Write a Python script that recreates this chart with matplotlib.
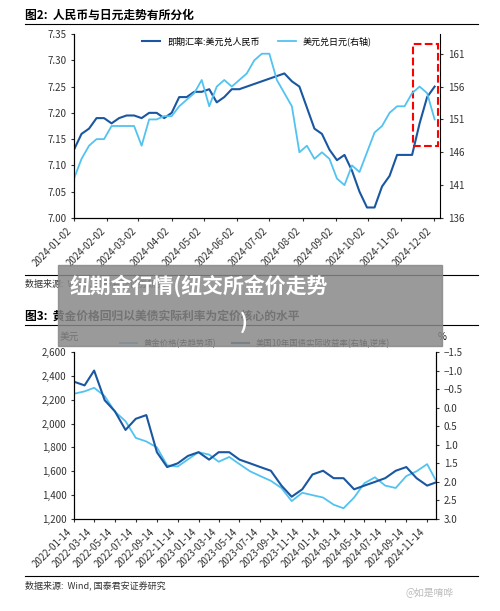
import matplotlib
matplotlib.use("Agg")
import matplotlib.pyplot as plt
import pandas as pd
from matplotlib.patches import Rectangle

plt.rcParams['font.family'] = ['Noto Sans CJK SC', 'DejaVu Sans']

cny = [7.13,7.16,7.17,7.19, 7.19,7.18,7.19,7.195, 7.195,7.19,7.20,7.20,7.19,
       7.20,7.23,7.23,7.24, 7.24,7.245,7.22,7.23, 7.245,7.245,7.25,7.255,
       7.26,7.265,7.27,7.275,7.26, 7.25,7.21,7.17,7.16, 7.13,7.11,7.12,7.09,7.05,
       7.02,7.02,7.06,7.08, 7.12,7.12,7.12,7.18,7.23, 7.25]
jpy = [142,145,147,148, 148,150,150,150, 150,147,151,151,151.5,
       151.5,153,154,155, 157,153,156,157, 156,157,158,160,
       161,161,157,155,153, 146,147,145,146, 145,142,141,144,143,
       146,149,150,152, 153,153,155,156,155, 151]
top_dates = pd.date_range('2024-01-02', periods=len(cny), freq='7D')
top_ticks = pd.date_range('2024-01-01', periods=12, freq='MS') + pd.Timedelta(days=1)

gold = [2250,2270,2300,2230,2100,2020,1880,1850,1800,1650,1640,1700,
        1760,1740,1680,1720,1660,1600,1560,1520,1460,1350,1420,1400,
        1380,1320,1290,1380,1500,1550,1480,1460,1560,1600,1660,1500]
ry = [-0.7,-0.6,-1.0,-0.2,0.1,0.6,0.3,0.2,1.2,1.6,1.5,1.3,
      1.2,1.4,1.2,1.2,1.4,1.5,1.6,1.7,2.1,2.4,2.2,1.8,
      1.7,1.9,1.9,2.2,2.1,2.0,1.9,1.7,1.6,1.9,2.1,2.0]
bot_dates = pd.date_range('2022-01-01', periods=len(gold), freq='MS') + pd.Timedelta(days=13)
bot_ticks = pd.date_range('2022-01-01', periods=18, freq='2MS') + pd.Timedelta(days=13)

dark = '#1a57a0'; light = '#52c3f1'
W, H = 500, 611
fig = plt.figure(figsize=(5, 6.11), dpi=100)

def ax_rect(l, t, r, b):
    return [l/W, 1-b/H, (r-l)/W, (b-t)/H]

# top chart
ax = fig.add_axes(ax_rect(74, 34, 440, 218))
ax2 = ax.twinx()
ax.plot(top_dates, cny, color=dark, lw=1.5)
ax2.plot(top_dates, jpy, color=light, lw=1.3)
ax.set_ylim(7.0, 7.35); ax2.set_ylim(136, 164)
ax.set_yticks([7.0,7.05,7.10,7.15,7.20,7.25,7.30,7.35])
ax.set_yticklabels(['7.00','7.05','7.10','7.15','7.20','7.25','7.30','7.35'])
ax2.set_yticks([136,141,146,151,156,161])
ax.set_xlim(pd.Timestamp('2024-01-02'), pd.Timestamp('2024-12-08'))
ax.set_xticks(top_ticks)
ax.set_xticklabels([d.strftime('%Y-%m-%d') for d in top_ticks], rotation=45, ha='right', fontsize=6.5)
for a in (ax, ax2):
    a.spines['top'].set_visible(False)
    a.tick_params(labelsize=7, length=2, colors='#333')
ax.spines['right'].set_visible(False)
ax.plot([], [], color=dark, lw=1.5, label='即期汇率:美元兑人民币')
ax.plot([], [], color=light, lw=1.3, label='美元兑日元(右轴)')
ax.legend(loc='upper center', ncol=2, frameon=False, fontsize=6.5, bbox_to_anchor=(0.5, 1.03))
ax2.add_patch(Rectangle((pd.Timestamp('2024-11-13'), 147), pd.Timedelta(days=23), 15.5,
              fill=False, ec='red', lw=1.5, ls='--', clip_on=False))

# bottom chart
bx = fig.add_axes(ax_rect(74, 352, 436, 519))
bx2 = bx.twinx()
bx.plot(bot_dates, gold, color=light, lw=1.3)
bx2.plot(bot_dates, ry, color=dark, lw=1.5)
bx.set_ylim(1200, 2600); bx2.set_ylim(3.0, -1.5)
bx.set_yticks(range(1200, 2601, 200))
bx.set_yticklabels([f'{v:,}' for v in range(1200, 2601, 200)])
bx2.set_yticks([-1.5,-1.0,-0.5,0.0,0.5,1.0,1.5,2.0,2.5,3.0])
bx.set_xlim(pd.Timestamp('2022-01-14'), pd.Timestamp('2024-12-10'))
bx.set_xticks(bot_ticks)
bx.set_xticklabels([d.strftime('%Y-%m-%d') for d in bot_ticks], rotation=45, ha='right', fontsize=6.5)
for a in (bx, bx2):
    a.spines['top'].set_visible(False)
    a.tick_params(labelsize=7, length=2, colors='#333')
bx.plot([], [], color=light, lw=1.3, label='黄金价格(去趋势项)')
bx.plot([], [], color=dark, lw=1.5, label='美国10年国债实际收益率(右轴,逆序)')
bx.legend(loc='lower center', ncol=2, frameon=False, fontsize=6, bbox_to_anchor=(0.5, 0.98))
fig.text(60/W, 1-340/H, '美元', fontsize=7)
fig.text(438/W, 1-340/H, '%', fontsize=7)

# titles, lines, sources
fig.text(25/W, 1-15/H, '图2:  人民币与日元走势有所分化', fontsize=8.5, weight='bold', va='center')
fig.add_artist(plt.Line2D([25/W, 478/W], [1-24/H, 1-24/H], color='k', lw=0.8))
fig.add_artist(plt.Line2D([25/W, 478/W], [1-275/H, 1-275/H], color='k', lw=0.8))
fig.text(25/W, 1-283/H, '数据来源:  Wind, 国泰君安证券研究', fontsize=6.5, va='center', color='#333')
fig.text(25/W, 1-316/H, '图3:  黄金价格回归以美债实际利率为定价核心的水平', fontsize=8.5, weight='bold', va='center')
fig.add_artist(plt.Line2D([25/W, 478/W], [1-325/H, 1-325/H], color='k', lw=0.8))
fig.add_artist(plt.Line2D([25/W, 478/W], [1-576/H, 1-576/H], color='k', lw=0.8))
fig.text(25/W, 1-585/H, '数据来源:  Wind, 国泰君安证券研究', fontsize=6.5, va='center', color='#333')
fig.text(405/W, 1-593/H, '@如是唷哗', fontsize=7, va='center', color='#bbb')

# overlay
fig.add_artist(Rectangle((58/W, 1-346/H), 384/W, 81/H, transform=fig.transFigure,
                         color='#888', alpha=0.85, zorder=10))
fig.text(70/W, 1-286/H, '纽期金行情(纽交所金价走势', fontsize=15, weight='bold', color='white', va='center', zorder=11)
fig.text(240/W, 1-322/H, ')', fontsize=15, weight='bold', color='white', va='center', zorder=11)

fig.savefig('out.png', dpi=100)
